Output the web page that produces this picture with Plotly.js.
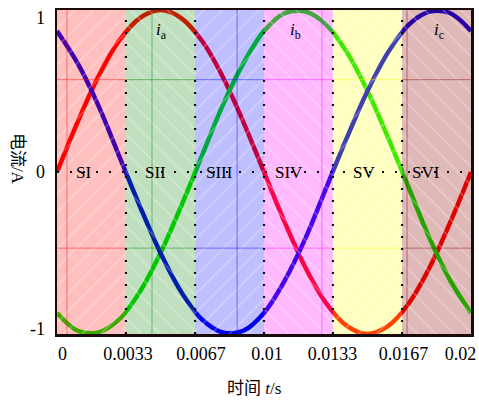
<!DOCTYPE html>
<html>
<head>
<meta charset="utf-8">
<script src="https://cdn.plot.ly/plotly-3.0.1.min.js"></script>
<style>html,body{margin:0;padding:0;background:#fff;}#chart{width:479px;height:401px;}</style>
</head>
<body>
<div id="chart"></div>
<script>
// ---- data ----
const time = [0,0.001,0.002,0.003,0.004,0.005,0.006,0.007,0.008,0.009,0.010,0.011,0.012,0.013,0.014,0.015,0.016,0.017,0.018,0.019,0.020];
const ia = [0,0.31,0.59,0.81,0.95,1,0.95,0.81,0.59,0.31,0,-0.31,-0.59,-0.81,-0.95,-1,-0.95,-0.81,-0.59,-0.31,0];
const ib = [-0.87,-0.98,-0.99,-0.91,-0.74,-0.5,-0.21,0.1,0.41,0.67,0.87,0.98,0.99,0.91,0.74,0.5,0.21,-0.1,-0.41,-0.67,-0.87];
const ic = [0.87,0.67,0.41,0.1,-0.21,-0.5,-0.74,-0.91,-0.99,-0.98,-0.87,-0.67,-0.41,-0.1,0.21,0.5,0.74,0.91,0.99,0.98,0.87];

const sectorBounds = [0,0.00333,0.00667,0.01,0.01333,0.01667,0.02];
const sectorNames = ['SI','SII','SIII','SIV','SV','SVI'];
const sectorLabelX = [0.00128,0.00476,0.00783,0.01123,0.01483,0.01783];

const xTickVals = [0.00027,0.00343,0.00696,0.01014,0.01331,0.01674,0.01949];
const xTickText = ['0','0.0033','0.0067','0.01','0.0133','0.0167','0.02'];
const yTickVals = [-0.97,0,0.95];
const yTickText = ['-1','0','1'];

const gridX = [0.00048,0.00459,0.0087,0.0128,0.01691];
const gridY = [0.57,-0.47];

const phaseNames = ['<i>i</i><sub>a</sub>','<i>i</i><sub>b</sub>','<i>i</i><sub>c</sub>'];
const phaseLabelX = [0.00505,0.01152,0.01845];
const phaseLabelY = [0.87,0.87,0.87];

// ---- styles ----
const lineColors = ['rgb(255,0,0)','rgb(0,225,0)','rgb(0,0,230)'];
const sectorRGB = [[255,0,0],[0,128,0],[0,0,255],[255,0,255],[255,255,0],[140,0,0]];
const sectorAlpha = [0.25,0.25,0.25,0.27,0.25,0.28];
const hatch = ['/','\\','/','\\','/','\\'];
const YMIN = -1, YMAX = 1;
const SERIF = 'Liberation Serif, Times New Roman, serif';

const traces = [];
[ia, ib, ic].forEach((s, i) => {
  traces.push({x: time, y: s, type: 'scatter', mode: 'lines',
    line: {color: lineColors[i], width: 4.5, shape: 'spline'},
    hoverinfo: 'skip', showlegend: false});
});
sectorNames.forEach((n, i) => {
  const x0 = sectorBounds[i], x1 = sectorBounds[i+1];
  const c = sectorRGB[i];
  const rgba = `rgba(${c[0]},${c[1]},${c[2]},${sectorAlpha[i]})`;
  traces.push({x: [x0,x1,x1,x0,x0], y: [YMIN,YMIN,YMAX,YMAX,YMIN], type: 'scatter', mode: 'none',
    fill: 'toself', fillcolor: rgba,
    fillpattern: {shape: hatch[i], bgcolor: rgba, fgcolor: 'rgba(255,255,255,0.32)', size: 13, solidity: 0.1},
    hoverinfo: 'skip', showlegend: false});
});

const shapes = [];
// coloured grid lines inside each sector
sectorNames.forEach((n, i) => {
  const c = sectorRGB[i];
  const col = `rgba(${c[0]},${c[1]},${c[2]},0.45)`;
  gridY.forEach(g => shapes.push({type:'line', xref:'x', yref:'y', x0: sectorBounds[i], x1: sectorBounds[i+1], y0: g, y1: g, line:{color: col, width: 1}, layer:'above'}));
  gridX.forEach(g => {
    if (g > sectorBounds[i] && g < sectorBounds[i+1]) shapes.push({type:'line', xref:'x', yref:'y', x0: g, x1: g, y0: YMIN, y1: YMAX, line:{color: col, width: 1}, layer:'above'});
  });
});
// dotted sector boundaries and zero line
sectorBounds.slice(1, -1).forEach(b => shapes.push({type:'line', xref:'x', yref:'y', x0: b, x1: b, y0: YMIN, y1: YMAX, line:{color:'#111', width: 2.2, dash:'2px,10px'}, layer:'above'}));
shapes.push({type:'line', xref:'x', yref:'y', x0: sectorBounds[0], x1: sectorBounds[6], y0: 0, y1: 0, line:{color:'#111', width: 2.2, dash:'2px,11px'}, layer:'above'});

const annotations = [];
sectorNames.forEach((n, i) => annotations.push({x: sectorLabelX[i], y: 0, xref:'x', yref:'y', text: n, showarrow:false, font:{family: SERIF, size: 17, color:'#000'}, xanchor:'center', yanchor:'middle'}));
phaseNames.forEach((n, i) => annotations.push({x: phaseLabelX[i], y: phaseLabelY[i], xref:'x', yref:'y', text: n, showarrow:false, font:{family: SERIF, size: 17, color:'#000'}, xanchor:'center', yanchor:'middle'}));
annotations.push({x: -0.0954, y: 0.542, xref:'paper', yref:'paper', text:'电流/A', textangle: 90, showarrow:false, font:{family: SERIF + ', Noto Sans CJK SC', size: 17, color:'#000'}, xanchor:'center', yanchor:'middle'});
annotations.push({x: 0.476, y: -0.167, xref:'paper', yref:'paper', text:'时间 <i>t</i>/s', showarrow:false, font:{family: SERIF + ', Noto Sans CJK SC', size: 17, color:'#000'}, xanchor:'center', yanchor:'middle'});

const layout = {
  width: 479, height: 401,
  margin: {l: 57, r: 8, t: 10, b: 67},
  paper_bgcolor: '#fff', plot_bgcolor: '#fff',
  font: {family: SERIF, size: 18, color: '#000'},
  showlegend: false,
  xaxis: {range: [0, 0.02], tickmode: 'array', tickvals: xTickVals, ticktext: xTickText,
    showgrid: false, zeroline: false, showline: true, linecolor: '#1a0a0a', linewidth: 2.5, mirror: true,
    ticks: '', tickfont: {family: SERIF, size: 18}, ticklabelstandoff: 2},
  yaxis: {range: [YMIN, YMAX], tickmode: 'array', tickvals: yTickVals, ticktext: yTickText,
    showgrid: false, zeroline: false, showline: true, linecolor: '#1a0a0a', linewidth: 2.5, mirror: true,
    ticks: '', tickfont: {family: SERIF, size: 18}, ticklabelstandoff: 6},
  shapes: shapes,
  annotations: annotations
};

Plotly.newPlot('chart', traces, layout, {displayModeBar: false, staticPlot: true});
</script>
</body>
</html>
